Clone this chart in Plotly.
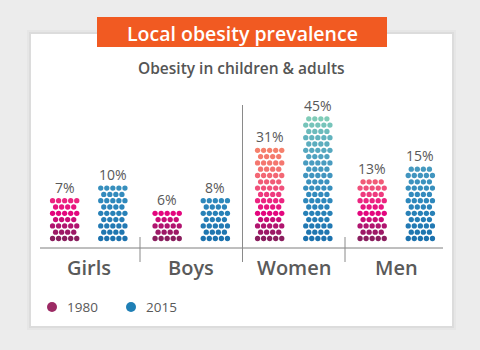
import plotly.graph_objects as go

# ---------------- data ----------------
categories = ["Girls", "Boys", "Women", "Men"]
years = ["1980", "2015"]
pct_1980 = [7, 6, 31, 13]
pct_2015 = [10, 8, 45, 15]
dot_rows_1980 = [7, 5, 15, 10]   # rows of dots drawn in each column
dot_rows_2015 = [9, 7, 20, 12]
title_text = "Local obesity prevalence"
subtitle_text = "Obesity in children & adults"

# ---------------- style ----------------
W, H = 480, 350
FONT = "Open Sans"
GREY = "#595959"
ROW_PX = 6.3
COL_PX = 6.05
X_LEFT_PX, X_RIGHT_PX = 37.5, 447.5
Y_TOP_PX, Y_BOT_PX = 95, 247
ROW0_PX = 238.5
PX_PER_CAT = (X_RIGHT_PX - X_LEFT_PX) / 4.0
y_lo = -(Y_BOT_PX - ROW0_PX) / ROW_PX
y_hi = y_lo + (Y_BOT_PX - Y_TOP_PX) / ROW_PX
dx = COL_PX / PX_PER_CAT
offsets = [-0.235, 0.235]

stops_1980 = [(0, "#8A1E5E"), (2, "#B0146F"), (4, "#E3067E"), (6, "#EC2480"),
              (8, "#F0507B"), (11, "#F47270"), (14, "#F5806C")]
stops_2015 = [(0, "#1C72AE"), (6, "#2E88BC"), (12, "#4A9CC0"), (16, "#62B3BE"),
              (19, "#80CCB8")]


def hex2rgb(h):
    h = h.lstrip("#")
    return tuple(int(h[i:i + 2], 16) for i in (0, 2, 4))


def grad(stops, r):
    if r <= stops[0][0]:
        return stops[0][1]
    for (a, ca), (b, cb) in zip(stops, stops[1:]):
        if a <= r <= b:
            t = (r - a) / (b - a)
            c1, c2 = hex2rgb(ca), hex2rgb(cb)
            c = [round(c1[i] + (c2[i] - c1[i]) * t) for i in range(3)]
            return "rgb(%d,%d,%d)" % tuple(c)
    return stops[-1][1]


def px_x(p):
    return p / W


def px_y(p):
    return 1 - p / H


fig = go.Figure()

series = [(pct_1980, dot_rows_1980, stops_1980), (pct_2015, dot_rows_2015, stops_2015)]
annotations = []
for s, (pcts, rows, stops) in enumerate(series):
    xs, ys, cs = [], [], []
    for ci, nrows in enumerate(rows):
        cx = ci + offsets[s]
        for r in range(nrows):
            n = 5 if r % 2 == 0 else 4
            for k in range(n):
                xs.append(cx + (k - (n - 1) / 2) * dx)
                ys.append(r)
                cs.append(grad(stops, r))
        annotations.append(dict(x=cx, y=nrows - 1, xref="x", yref="y",
                                text="%d%%" % pcts[ci], showarrow=False,
                                yshift=13.5, yanchor="middle",
                                font=dict(family=FONT, size=14, color=GREY)))
    fig.add_trace(go.Scatter(x=xs, y=ys, mode="markers", name=years[s],
                             marker=dict(size=5.3, color=cs, line=dict(width=0)),
                             hoverinfo="skip", showlegend=False))

shapes = []
# background card shadow + card
shapes.append(dict(type="rect", xref="paper", yref="paper",
                   x0=px_x(27), x1=px_x(456), y0=px_y(30), y1=px_y(330),
                   fillcolor="#E6E6E6", line=dict(width=0), layer="below"))
shapes.append(dict(type="rect", xref="paper", yref="paper",
                   x0=px_x(29), x1=px_x(454), y0=px_y(32), y1=px_y(328),
                   fillcolor="#DCDCDC", line=dict(width=0), layer="below"))
shapes.append(dict(type="rect", xref="paper", yref="paper",
                   x0=px_x(31), x1=px_x(452), y0=px_y(34), y1=px_y(326),
                   fillcolor="#FFFFFF", line=dict(width=0), layer="below"))
# orange banner
shapes.append(dict(type="rect", xref="paper", yref="paper",
                   x0=px_x(97), x1=px_x(387), y0=px_y(17), y1=px_y(47),
                   fillcolor="#F15A22", line=dict(width=0), layer="below"))
# baseline
shapes.append(dict(type="line", xref="paper", yref="paper",
                   x0=px_x(40), x1=px_x(443), y0=px_y(248), y1=px_y(248),
                   line=dict(color="#7F7F7F", width=1)))
# separators
for i, sep in enumerate([0.5, 1.5, 2.5]):
    top = 105 if i == 1 else 237
    shapes.append(dict(type="line", xref="x", yref="paper",
                       x0=sep, x1=sep, y0=px_y(top), y1=px_y(262),
                       line=dict(color="#8A8A8A", width=1)))
# legend dots
legend_cols = ["#9C2A64", "#1F7FB5"]
legend_x = [52, 131]
for lc, lx in zip(legend_cols, legend_x):
    shapes.append(dict(type="circle", xref="paper", yref="paper",
                       x0=px_x(lx - 5), x1=px_x(lx + 5), y0=px_y(302), y1=px_y(312),
                       fillcolor=lc, line=dict(width=0)))
for yr, lx in zip(years, legend_x):
    annotations.append(dict(x=px_x(lx + 13), y=px_y(307), xref="paper", yref="paper",
                            text=yr, showarrow=False, xanchor="left", yanchor="middle",
                            font=dict(family=FONT, size=13.5, color=GREY)))

# category labels
for i, c in enumerate(categories):
    annotations.append(dict(x=i, y=px_y(267), xref="x", yref="paper", text=c,
                            showarrow=False, yanchor="middle",
                            font=dict(family=FONT, size=20, color="#5A5A5A", weight=600)))

# title + subtitle
annotations.append(dict(x=px_x(242), y=px_y(33), xref="paper", yref="paper",
                        text=title_text, showarrow=False, yanchor="middle",
                        font=dict(family=FONT, size=19.5, color="#FFFFFF", weight=600)))
annotations.append(dict(x=px_x(241), y=px_y(68), xref="paper", yref="paper",
                        text=subtitle_text, showarrow=False, yanchor="middle",
                        font=dict(family=FONT, size=15.5, color="#555555", weight=600)))

fig.update_layout(
    width=W, height=H, margin=dict(l=0, r=0, t=0, b=0),
    paper_bgcolor="#ECECEC", plot_bgcolor="rgba(0,0,0,0)",
    xaxis=dict(domain=[px_x(X_LEFT_PX), px_x(X_RIGHT_PX)], range=[-0.5, 3.5],
               visible=False, fixedrange=True),
    yaxis=dict(domain=[px_y(Y_BOT_PX), px_y(Y_TOP_PX)], range=[y_lo, y_hi],
               visible=False, fixedrange=True),
    shapes=shapes, annotations=annotations, showlegend=False,
)

fig.write_html("out.html", config={"displayModeBar": False})
